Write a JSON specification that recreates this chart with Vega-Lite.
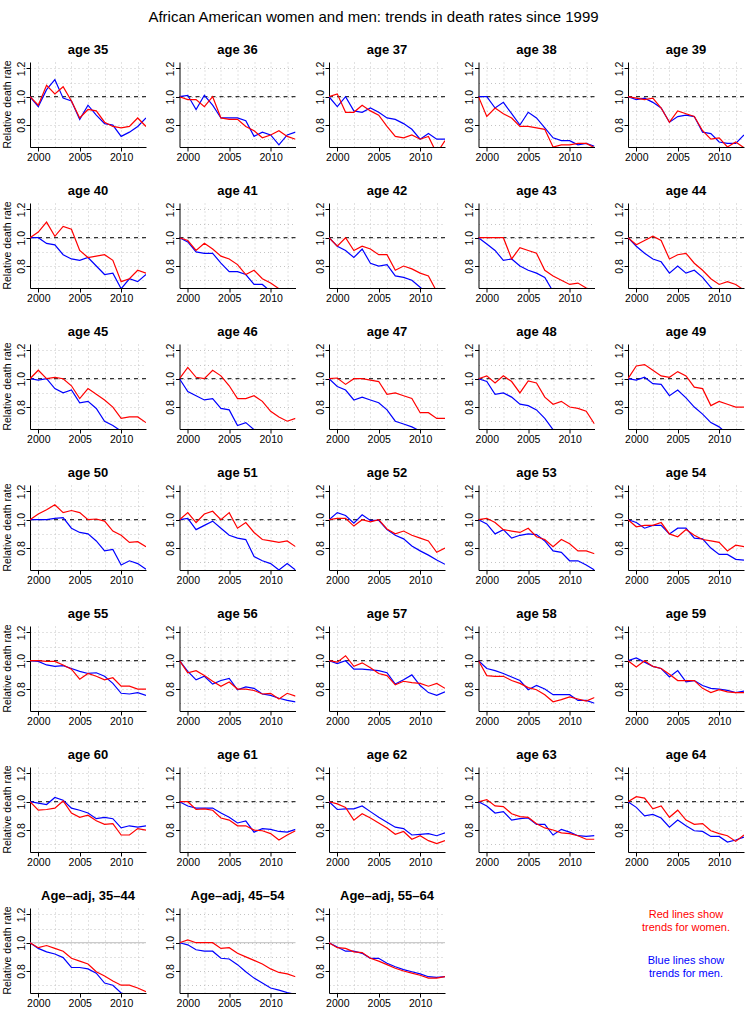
{
"$schema":"https://vega.github.io/schema/vega-lite/v6.json",
"padding":{"left":2,"top":10,"right":2,"bottom":2},
"title":{"text":"African American women and men: trends in death rates since 1999","fontSize":15,"fontWeight":"normal","font":"Liberation Sans","anchor":"middle","color":"black","offset":19},
"config":{"view":{"stroke":null},"font":"Liberation Sans","axis":{"domainColor":"black","tickColor":"black","labelColor":"black","labelFontSize":10.5,"labelFont":"Liberation Sans","tickSize":4,"domainWidth":1,"tickWidth":1,"gridColor":"#c4c4c4","gridDash":[1,3],"gridWidth":1}},
"data":{"values":[
{"a":35,"s":"m","x":1999,"v":1},{"a":35,"s":"m","x":2000,"v":0.93},{"a":35,"s":"m","x":2001,"v":1.05},{"a":35,"s":"m","x":2002,"v":1.12},{"a":35,"s":"m","x":2003,"v":0.99},{"a":35,"s":"m","x":2004,"v":0.97},{"a":35,"s":"m","x":2005,"v":0.84},{"a":35,"s":"m","x":2006,"v":0.94},{"a":35,"s":"m","x":2007,"v":0.87},{"a":35,"s":"m","x":2008,"v":0.81},{"a":35,"s":"m","x":2009,"v":0.8},{"a":35,"s":"m","x":2010,"v":0.72},{"a":35,"s":"m","x":2011,"v":0.75},{"a":35,"s":"m","x":2012,"v":0.79},{"a":35,"s":"m","x":2013,"v":0.85},
{"a":35,"s":"w","x":1999,"v":1},{"a":35,"s":"w","x":2000,"v":0.94},{"a":35,"s":"w","x":2001,"v":1.08},{"a":35,"s":"w","x":2002,"v":1.02},{"a":35,"s":"w","x":2003,"v":1.07},{"a":35,"s":"w","x":2004,"v":0.97},{"a":35,"s":"w","x":2005,"v":0.85},{"a":35,"s":"w","x":2006,"v":0.91},{"a":35,"s":"w","x":2007,"v":0.9},{"a":35,"s":"w","x":2008,"v":0.82},{"a":35,"s":"w","x":2009,"v":0.79},{"a":35,"s":"w","x":2010,"v":0.78},{"a":35,"s":"w","x":2011,"v":0.79},{"a":35,"s":"w","x":2012,"v":0.85},{"a":35,"s":"w","x":2013,"v":0.79},
{"a":36,"s":"m","x":1999,"v":1},{"a":36,"s":"m","x":2000,"v":1.01},{"a":36,"s":"m","x":2001,"v":0.91},{"a":36,"s":"m","x":2002,"v":1.01},{"a":36,"s":"m","x":2003,"v":0.94},{"a":36,"s":"m","x":2004,"v":0.85},{"a":36,"s":"m","x":2005,"v":0.85},{"a":36,"s":"m","x":2006,"v":0.85},{"a":36,"s":"m","x":2007,"v":0.83},{"a":36,"s":"m","x":2008,"v":0.72},{"a":36,"s":"m","x":2009,"v":0.75},{"a":36,"s":"m","x":2010,"v":0.73},{"a":36,"s":"m","x":2011,"v":0.66},{"a":36,"s":"m","x":2012,"v":0.73},{"a":36,"s":"m","x":2013,"v":0.75},
{"a":36,"s":"w","x":1999,"v":1},{"a":36,"s":"w","x":2000,"v":0.98},{"a":36,"s":"w","x":2001,"v":0.98},{"a":36,"s":"w","x":2002,"v":0.93},{"a":36,"s":"w","x":2003,"v":1.0},{"a":36,"s":"w","x":2004,"v":0.85},{"a":36,"s":"w","x":2005,"v":0.84},{"a":36,"s":"w","x":2006,"v":0.84},{"a":36,"s":"w","x":2007,"v":0.79},{"a":36,"s":"w","x":2008,"v":0.76},{"a":36,"s":"w","x":2009,"v":0.71},{"a":36,"s":"w","x":2010,"v":0.73},{"a":36,"s":"w","x":2011,"v":0.76},{"a":36,"s":"w","x":2012,"v":0.72},{"a":36,"s":"w","x":2013,"v":0.7},
{"a":37,"s":"m","x":1999,"v":1},{"a":37,"s":"m","x":2000,"v":0.93},{"a":37,"s":"m","x":2001,"v":1.0},{"a":37,"s":"m","x":2002,"v":0.9},{"a":37,"s":"m","x":2003,"v":0.89},{"a":37,"s":"m","x":2004,"v":0.92},{"a":37,"s":"m","x":2005,"v":0.89},{"a":37,"s":"m","x":2006,"v":0.85},{"a":37,"s":"m","x":2007,"v":0.84},{"a":37,"s":"m","x":2008,"v":0.81},{"a":37,"s":"m","x":2009,"v":0.77},{"a":37,"s":"m","x":2010,"v":0.7},{"a":37,"s":"m","x":2011,"v":0.74},{"a":37,"s":"m","x":2012,"v":0.7},{"a":37,"s":"m","x":2013,"v":0.7},
{"a":37,"s":"w","x":1999,"v":1},{"a":37,"s":"w","x":2000,"v":1.02},{"a":37,"s":"w","x":2001,"v":0.89},{"a":37,"s":"w","x":2002,"v":0.89},{"a":37,"s":"w","x":2003,"v":0.94},{"a":37,"s":"w","x":2004,"v":0.9},{"a":37,"s":"w","x":2005,"v":0.87},{"a":37,"s":"w","x":2006,"v":0.79},{"a":37,"s":"w","x":2007,"v":0.72},{"a":37,"s":"w","x":2008,"v":0.71},{"a":37,"s":"w","x":2009,"v":0.73},{"a":37,"s":"w","x":2010,"v":0.7},{"a":37,"s":"w","x":2011,"v":0.72},{"a":37,"s":"w","x":2012,"v":0.6},{"a":37,"s":"w","x":2013,"v":0.69},
{"a":38,"s":"m","x":1999,"v":1},{"a":38,"s":"m","x":2000,"v":1.0},{"a":38,"s":"m","x":2001,"v":0.92},{"a":38,"s":"m","x":2002,"v":0.96},{"a":38,"s":"m","x":2003,"v":0.88},{"a":38,"s":"m","x":2004,"v":0.8},{"a":38,"s":"m","x":2005,"v":0.89},{"a":38,"s":"m","x":2006,"v":0.85},{"a":38,"s":"m","x":2007,"v":0.78},{"a":38,"s":"m","x":2008,"v":0.71},{"a":38,"s":"m","x":2009,"v":0.69},{"a":38,"s":"m","x":2010,"v":0.69},{"a":38,"s":"m","x":2011,"v":0.66},{"a":38,"s":"m","x":2012,"v":0.67},{"a":38,"s":"m","x":2013,"v":0.65},
{"a":38,"s":"w","x":1999,"v":1},{"a":38,"s":"w","x":2000,"v":0.86},{"a":38,"s":"w","x":2001,"v":0.92},{"a":38,"s":"w","x":2002,"v":0.88},{"a":38,"s":"w","x":2003,"v":0.85},{"a":38,"s":"w","x":2004,"v":0.79},{"a":38,"s":"w","x":2005,"v":0.79},{"a":38,"s":"w","x":2006,"v":0.78},{"a":38,"s":"w","x":2007,"v":0.77},{"a":38,"s":"w","x":2008,"v":0.645},{"a":38,"s":"w","x":2009,"v":0.66},{"a":38,"s":"w","x":2010,"v":0.66},{"a":38,"s":"w","x":2011,"v":0.67},{"a":38,"s":"w","x":2012,"v":0.67},{"a":38,"s":"w","x":2013,"v":0.64},
{"a":39,"s":"m","x":1999,"v":1},{"a":39,"s":"m","x":2000,"v":0.98},{"a":39,"s":"m","x":2001,"v":0.99},{"a":39,"s":"m","x":2002,"v":0.96},{"a":39,"s":"m","x":2003,"v":0.92},{"a":39,"s":"m","x":2004,"v":0.82},{"a":39,"s":"m","x":2005,"v":0.86},{"a":39,"s":"m","x":2006,"v":0.87},{"a":39,"s":"m","x":2007,"v":0.86},{"a":39,"s":"m","x":2008,"v":0.75},{"a":39,"s":"m","x":2009,"v":0.74},{"a":39,"s":"m","x":2010,"v":0.68},{"a":39,"s":"m","x":2011,"v":0.67},{"a":39,"s":"m","x":2012,"v":0.67},{"a":39,"s":"m","x":2013,"v":0.73},
{"a":39,"s":"w","x":1999,"v":1},{"a":39,"s":"w","x":2000,"v":0.99},{"a":39,"s":"w","x":2001,"v":0.98},{"a":39,"s":"w","x":2002,"v":0.99},{"a":39,"s":"w","x":2003,"v":0.92},{"a":39,"s":"w","x":2004,"v":0.82},{"a":39,"s":"w","x":2005,"v":0.9},{"a":39,"s":"w","x":2006,"v":0.88},{"a":39,"s":"w","x":2007,"v":0.86},{"a":39,"s":"w","x":2008,"v":0.76},{"a":39,"s":"w","x":2009,"v":0.7},{"a":39,"s":"w","x":2010,"v":0.71},{"a":39,"s":"w","x":2011,"v":0.645},{"a":39,"s":"w","x":2012,"v":0.68},{"a":39,"s":"w","x":2013,"v":0.64},
{"a":40,"s":"m","x":1999,"v":1},{"a":40,"s":"m","x":2000,"v":1.0},{"a":40,"s":"m","x":2001,"v":0.96},{"a":40,"s":"m","x":2002,"v":0.95},{"a":40,"s":"m","x":2003,"v":0.88},{"a":40,"s":"m","x":2004,"v":0.85},{"a":40,"s":"m","x":2005,"v":0.84},{"a":40,"s":"m","x":2006,"v":0.86},{"a":40,"s":"m","x":2007,"v":0.8},{"a":40,"s":"m","x":2008,"v":0.74},{"a":40,"s":"m","x":2009,"v":0.75},{"a":40,"s":"m","x":2010,"v":0.64},{"a":40,"s":"m","x":2011,"v":0.71},{"a":40,"s":"m","x":2012,"v":0.69},{"a":40,"s":"m","x":2013,"v":0.74},
{"a":40,"s":"w","x":1999,"v":1},{"a":40,"s":"w","x":2000,"v":1.04},{"a":40,"s":"w","x":2001,"v":1.11},{"a":40,"s":"w","x":2002,"v":1.01},{"a":40,"s":"w","x":2003,"v":1.08},{"a":40,"s":"w","x":2004,"v":1.06},{"a":40,"s":"w","x":2005,"v":0.91},{"a":40,"s":"w","x":2006,"v":0.86},{"a":40,"s":"w","x":2007,"v":0.87},{"a":40,"s":"w","x":2008,"v":0.88},{"a":40,"s":"w","x":2009,"v":0.84},{"a":40,"s":"w","x":2010,"v":0.69},{"a":40,"s":"w","x":2011,"v":0.71},{"a":40,"s":"w","x":2012,"v":0.77},{"a":40,"s":"w","x":2013,"v":0.75},
{"a":41,"s":"m","x":1999,"v":1},{"a":41,"s":"m","x":2000,"v":0.97},{"a":41,"s":"m","x":2001,"v":0.9},{"a":41,"s":"m","x":2002,"v":0.89},{"a":41,"s":"m","x":2003,"v":0.89},{"a":41,"s":"m","x":2004,"v":0.82},{"a":41,"s":"m","x":2005,"v":0.76},{"a":41,"s":"m","x":2006,"v":0.76},{"a":41,"s":"m","x":2007,"v":0.74},{"a":41,"s":"m","x":2008,"v":0.67},{"a":41,"s":"m","x":2009,"v":0.67},{"a":41,"s":"m","x":2010,"v":0.62},{"a":41,"s":"m","x":2011,"v":0.59},{"a":41,"s":"m","x":2012,"v":0.57},{"a":41,"s":"m","x":2013,"v":0.55},
{"a":41,"s":"w","x":1999,"v":1},{"a":41,"s":"w","x":2000,"v":0.98},{"a":41,"s":"w","x":2001,"v":0.91},{"a":41,"s":"w","x":2002,"v":0.96},{"a":41,"s":"w","x":2003,"v":0.92},{"a":41,"s":"w","x":2004,"v":0.87},{"a":41,"s":"w","x":2005,"v":0.85},{"a":41,"s":"w","x":2006,"v":0.81},{"a":41,"s":"w","x":2007,"v":0.74},{"a":41,"s":"w","x":2008,"v":0.77},{"a":41,"s":"w","x":2009,"v":0.71},{"a":41,"s":"w","x":2010,"v":0.68},{"a":41,"s":"w","x":2011,"v":0.64},{"a":41,"s":"w","x":2012,"v":0.61},{"a":41,"s":"w","x":2013,"v":0.6},
{"a":42,"s":"m","x":1999,"v":1},{"a":42,"s":"m","x":2000,"v":0.94},{"a":42,"s":"m","x":2001,"v":0.91},{"a":42,"s":"m","x":2002,"v":0.86},{"a":42,"s":"m","x":2003,"v":0.92},{"a":42,"s":"m","x":2004,"v":0.82},{"a":42,"s":"m","x":2005,"v":0.8},{"a":42,"s":"m","x":2006,"v":0.81},{"a":42,"s":"m","x":2007,"v":0.73},{"a":42,"s":"m","x":2008,"v":0.72},{"a":42,"s":"m","x":2009,"v":0.7},{"a":42,"s":"m","x":2010,"v":0.65},{"a":42,"s":"m","x":2011,"v":0.6},{"a":42,"s":"m","x":2012,"v":0.58},{"a":42,"s":"m","x":2013,"v":0.56},
{"a":42,"s":"w","x":1999,"v":1},{"a":42,"s":"w","x":2000,"v":0.94},{"a":42,"s":"w","x":2001,"v":1.0},{"a":42,"s":"w","x":2002,"v":0.91},{"a":42,"s":"w","x":2003,"v":0.94},{"a":42,"s":"w","x":2004,"v":0.92},{"a":42,"s":"w","x":2005,"v":0.88},{"a":42,"s":"w","x":2006,"v":0.88},{"a":42,"s":"w","x":2007,"v":0.77},{"a":42,"s":"w","x":2008,"v":0.8},{"a":42,"s":"w","x":2009,"v":0.78},{"a":42,"s":"w","x":2010,"v":0.75},{"a":42,"s":"w","x":2011,"v":0.73},{"a":42,"s":"w","x":2012,"v":0.62},{"a":42,"s":"w","x":2013,"v":0.58},
{"a":43,"s":"m","x":1999,"v":1},{"a":43,"s":"m","x":2000,"v":0.955},{"a":43,"s":"m","x":2001,"v":0.91},{"a":43,"s":"m","x":2002,"v":0.84},{"a":43,"s":"m","x":2003,"v":0.85},{"a":43,"s":"m","x":2004,"v":0.8},{"a":43,"s":"m","x":2005,"v":0.77},{"a":43,"s":"m","x":2006,"v":0.75},{"a":43,"s":"m","x":2007,"v":0.72},{"a":43,"s":"m","x":2008,"v":0.62},{"a":43,"s":"m","x":2009,"v":0.6},{"a":43,"s":"m","x":2010,"v":0.58},{"a":43,"s":"m","x":2011,"v":0.56},{"a":43,"s":"m","x":2012,"v":0.54},{"a":43,"s":"m","x":2013,"v":0.52},
{"a":43,"s":"w","x":1999,"v":1},{"a":43,"s":"w","x":2000,"v":1.0},{"a":43,"s":"w","x":2001,"v":1.0},{"a":43,"s":"w","x":2002,"v":1.0},{"a":43,"s":"w","x":2003,"v":0.85},{"a":43,"s":"w","x":2004,"v":0.93},{"a":43,"s":"w","x":2005,"v":0.91},{"a":43,"s":"w","x":2006,"v":0.89},{"a":43,"s":"w","x":2007,"v":0.77},{"a":43,"s":"w","x":2008,"v":0.73},{"a":43,"s":"w","x":2009,"v":0.7},{"a":43,"s":"w","x":2010,"v":0.67},{"a":43,"s":"w","x":2011,"v":0.68},{"a":43,"s":"w","x":2012,"v":0.645},{"a":43,"s":"w","x":2013,"v":0.62},
{"a":44,"s":"m","x":1999,"v":1},{"a":44,"s":"m","x":2000,"v":0.94},{"a":44,"s":"m","x":2001,"v":0.89},{"a":44,"s":"m","x":2002,"v":0.85},{"a":44,"s":"m","x":2003,"v":0.83},{"a":44,"s":"m","x":2004,"v":0.75},{"a":44,"s":"m","x":2005,"v":0.8},{"a":44,"s":"m","x":2006,"v":0.75},{"a":44,"s":"m","x":2007,"v":0.77},{"a":44,"s":"m","x":2008,"v":0.72},{"a":44,"s":"m","x":2009,"v":0.65},{"a":44,"s":"m","x":2010,"v":0.6},{"a":44,"s":"m","x":2011,"v":0.58},{"a":44,"s":"m","x":2012,"v":0.56},{"a":44,"s":"m","x":2013,"v":0.54},
{"a":44,"s":"w","x":1999,"v":1},{"a":44,"s":"w","x":2000,"v":0.95},{"a":44,"s":"w","x":2001,"v":0.98},{"a":44,"s":"w","x":2002,"v":1.01},{"a":44,"s":"w","x":2003,"v":0.98},{"a":44,"s":"w","x":2004,"v":0.85},{"a":44,"s":"w","x":2005,"v":0.88},{"a":44,"s":"w","x":2006,"v":0.89},{"a":44,"s":"w","x":2007,"v":0.82},{"a":44,"s":"w","x":2008,"v":0.77},{"a":44,"s":"w","x":2009,"v":0.71},{"a":44,"s":"w","x":2010,"v":0.67},{"a":44,"s":"w","x":2011,"v":0.69},{"a":44,"s":"w","x":2012,"v":0.67},{"a":44,"s":"w","x":2013,"v":0.63},
{"a":45,"s":"m","x":1999,"v":1},{"a":45,"s":"m","x":2000,"v":0.99},{"a":45,"s":"m","x":2001,"v":1.0},{"a":45,"s":"m","x":2002,"v":0.93},{"a":45,"s":"m","x":2003,"v":0.9},{"a":45,"s":"m","x":2004,"v":0.92},{"a":45,"s":"m","x":2005,"v":0.83},{"a":45,"s":"m","x":2006,"v":0.84},{"a":45,"s":"m","x":2007,"v":0.79},{"a":45,"s":"m","x":2008,"v":0.7},{"a":45,"s":"m","x":2009,"v":0.67},{"a":45,"s":"m","x":2010,"v":0.63},{"a":45,"s":"m","x":2011,"v":0.64},{"a":45,"s":"m","x":2012,"v":0.6},{"a":45,"s":"m","x":2013,"v":0.58},
{"a":45,"s":"w","x":1999,"v":1},{"a":45,"s":"w","x":2000,"v":1.06},{"a":45,"s":"w","x":2001,"v":1.0},{"a":45,"s":"w","x":2002,"v":1.01},{"a":45,"s":"w","x":2003,"v":1.0},{"a":45,"s":"w","x":2004,"v":0.95},{"a":45,"s":"w","x":2005,"v":0.86},{"a":45,"s":"w","x":2006,"v":0.93},{"a":45,"s":"w","x":2007,"v":0.89},{"a":45,"s":"w","x":2008,"v":0.85},{"a":45,"s":"w","x":2009,"v":0.8},{"a":45,"s":"w","x":2010,"v":0.72},{"a":45,"s":"w","x":2011,"v":0.73},{"a":45,"s":"w","x":2012,"v":0.73},{"a":45,"s":"w","x":2013,"v":0.69},
{"a":46,"s":"m","x":1999,"v":1},{"a":46,"s":"m","x":2000,"v":0.91},{"a":46,"s":"m","x":2001,"v":0.88},{"a":46,"s":"m","x":2002,"v":0.85},{"a":46,"s":"m","x":2003,"v":0.86},{"a":46,"s":"m","x":2004,"v":0.79},{"a":46,"s":"m","x":2005,"v":0.78},{"a":46,"s":"m","x":2006,"v":0.67},{"a":46,"s":"m","x":2007,"v":0.69},{"a":46,"s":"m","x":2008,"v":0.64},{"a":46,"s":"m","x":2009,"v":0.61},{"a":46,"s":"m","x":2010,"v":0.59},{"a":46,"s":"m","x":2011,"v":0.57},{"a":46,"s":"m","x":2012,"v":0.55},{"a":46,"s":"m","x":2013,"v":0.53},
{"a":46,"s":"w","x":1999,"v":1},{"a":46,"s":"w","x":2000,"v":1.08},{"a":46,"s":"w","x":2001,"v":1.01},{"a":46,"s":"w","x":2002,"v":1.0},{"a":46,"s":"w","x":2003,"v":1.06},{"a":46,"s":"w","x":2004,"v":1.02},{"a":46,"s":"w","x":2005,"v":0.95},{"a":46,"s":"w","x":2006,"v":0.86},{"a":46,"s":"w","x":2007,"v":0.86},{"a":46,"s":"w","x":2008,"v":0.88},{"a":46,"s":"w","x":2009,"v":0.84},{"a":46,"s":"w","x":2010,"v":0.77},{"a":46,"s":"w","x":2011,"v":0.73},{"a":46,"s":"w","x":2012,"v":0.7},{"a":46,"s":"w","x":2013,"v":0.72},
{"a":47,"s":"m","x":1999,"v":1},{"a":47,"s":"m","x":2000,"v":0.945},{"a":47,"s":"m","x":2001,"v":0.92},{"a":47,"s":"m","x":2002,"v":0.85},{"a":47,"s":"m","x":2003,"v":0.87},{"a":47,"s":"m","x":2004,"v":0.85},{"a":47,"s":"m","x":2005,"v":0.83},{"a":47,"s":"m","x":2006,"v":0.78},{"a":47,"s":"m","x":2007,"v":0.7},{"a":47,"s":"m","x":2008,"v":0.68},{"a":47,"s":"m","x":2009,"v":0.66},{"a":47,"s":"m","x":2010,"v":0.63},{"a":47,"s":"m","x":2011,"v":0.61},{"a":47,"s":"m","x":2012,"v":0.59},{"a":47,"s":"m","x":2013,"v":0.57},
{"a":47,"s":"w","x":1999,"v":1},{"a":47,"s":"w","x":2000,"v":1.005},{"a":47,"s":"w","x":2001,"v":0.96},{"a":47,"s":"w","x":2002,"v":1.0},{"a":47,"s":"w","x":2003,"v":1.0},{"a":47,"s":"w","x":2004,"v":0.99},{"a":47,"s":"w","x":2005,"v":0.98},{"a":47,"s":"w","x":2006,"v":0.89},{"a":47,"s":"w","x":2007,"v":0.9},{"a":47,"s":"w","x":2008,"v":0.88},{"a":47,"s":"w","x":2009,"v":0.86},{"a":47,"s":"w","x":2010,"v":0.76},{"a":47,"s":"w","x":2011,"v":0.76},{"a":47,"s":"w","x":2012,"v":0.72},{"a":47,"s":"w","x":2013,"v":0.72},
{"a":48,"s":"m","x":1999,"v":1},{"a":48,"s":"m","x":2000,"v":0.98},{"a":48,"s":"m","x":2001,"v":0.89},{"a":48,"s":"m","x":2002,"v":0.9},{"a":48,"s":"m","x":2003,"v":0.87},{"a":48,"s":"m","x":2004,"v":0.82},{"a":48,"s":"m","x":2005,"v":0.81},{"a":48,"s":"m","x":2006,"v":0.78},{"a":48,"s":"m","x":2007,"v":0.72},{"a":48,"s":"m","x":2008,"v":0.64},{"a":48,"s":"m","x":2009,"v":0.6},{"a":48,"s":"m","x":2010,"v":0.58},{"a":48,"s":"m","x":2011,"v":0.56},{"a":48,"s":"m","x":2012,"v":0.54},{"a":48,"s":"m","x":2013,"v":0.52},
{"a":48,"s":"w","x":1999,"v":1},{"a":48,"s":"w","x":2000,"v":1.02},{"a":48,"s":"w","x":2001,"v":0.97},{"a":48,"s":"w","x":2002,"v":1.02},{"a":48,"s":"w","x":2003,"v":0.98},{"a":48,"s":"w","x":2004,"v":0.9},{"a":48,"s":"w","x":2005,"v":0.985},{"a":48,"s":"w","x":2006,"v":0.97},{"a":48,"s":"w","x":2007,"v":0.87},{"a":48,"s":"w","x":2008,"v":0.82},{"a":48,"s":"w","x":2009,"v":0.84},{"a":48,"s":"w","x":2010,"v":0.8},{"a":48,"s":"w","x":2011,"v":0.79},{"a":48,"s":"w","x":2012,"v":0.77},{"a":48,"s":"w","x":2013,"v":0.68},
{"a":49,"s":"m","x":1999,"v":1},{"a":49,"s":"m","x":2000,"v":0.99},{"a":49,"s":"m","x":2001,"v":1.01},{"a":49,"s":"m","x":2002,"v":0.965},{"a":49,"s":"m","x":2003,"v":0.96},{"a":49,"s":"m","x":2004,"v":0.88},{"a":49,"s":"m","x":2005,"v":0.92},{"a":49,"s":"m","x":2006,"v":0.865},{"a":49,"s":"m","x":2007,"v":0.8},{"a":49,"s":"m","x":2008,"v":0.75},{"a":49,"s":"m","x":2009,"v":0.69},{"a":49,"s":"m","x":2010,"v":0.66},{"a":49,"s":"m","x":2011,"v":0.61},{"a":49,"s":"m","x":2012,"v":0.59},{"a":49,"s":"m","x":2013,"v":0.57},
{"a":49,"s":"w","x":1999,"v":1},{"a":49,"s":"w","x":2000,"v":1.09},{"a":49,"s":"w","x":2001,"v":1.1},{"a":49,"s":"w","x":2002,"v":1.06},{"a":49,"s":"w","x":2003,"v":1.02},{"a":49,"s":"w","x":2004,"v":1.01},{"a":49,"s":"w","x":2005,"v":1.05},{"a":49,"s":"w","x":2006,"v":1.02},{"a":49,"s":"w","x":2007,"v":0.94},{"a":49,"s":"w","x":2008,"v":0.93},{"a":49,"s":"w","x":2009,"v":0.81},{"a":49,"s":"w","x":2010,"v":0.84},{"a":49,"s":"w","x":2011,"v":0.82},{"a":49,"s":"w","x":2012,"v":0.8},{"a":49,"s":"w","x":2013,"v":0.8},
{"a":50,"s":"m","x":1999,"v":1},{"a":50,"s":"m","x":2000,"v":1.0},{"a":50,"s":"m","x":2001,"v":1.0},{"a":50,"s":"m","x":2002,"v":1.01},{"a":50,"s":"m","x":2003,"v":1.015},{"a":50,"s":"m","x":2004,"v":0.94},{"a":50,"s":"m","x":2005,"v":0.91},{"a":50,"s":"m","x":2006,"v":0.9},{"a":50,"s":"m","x":2007,"v":0.85},{"a":50,"s":"m","x":2008,"v":0.78},{"a":50,"s":"m","x":2009,"v":0.79},{"a":50,"s":"m","x":2010,"v":0.68},{"a":50,"s":"m","x":2011,"v":0.71},{"a":50,"s":"m","x":2012,"v":0.69},{"a":50,"s":"m","x":2013,"v":0.65},
{"a":50,"s":"w","x":1999,"v":1},{"a":50,"s":"w","x":2000,"v":1.04},{"a":50,"s":"w","x":2001,"v":1.07},{"a":50,"s":"w","x":2002,"v":1.105},{"a":50,"s":"w","x":2003,"v":1.05},{"a":50,"s":"w","x":2004,"v":1.065},{"a":50,"s":"w","x":2005,"v":1.05},{"a":50,"s":"w","x":2006,"v":1.0},{"a":50,"s":"w","x":2007,"v":1.005},{"a":50,"s":"w","x":2008,"v":0.99},{"a":50,"s":"w","x":2009,"v":0.92},{"a":50,"s":"w","x":2010,"v":0.89},{"a":50,"s":"w","x":2011,"v":0.84},{"a":50,"s":"w","x":2012,"v":0.845},{"a":50,"s":"w","x":2013,"v":0.81},
{"a":51,"s":"m","x":1999,"v":1},{"a":51,"s":"m","x":2000,"v":1.01},{"a":51,"s":"m","x":2001,"v":0.93},{"a":51,"s":"m","x":2002,"v":0.96},{"a":51,"s":"m","x":2003,"v":0.99},{"a":51,"s":"m","x":2004,"v":0.94},{"a":51,"s":"m","x":2005,"v":0.89},{"a":51,"s":"m","x":2006,"v":0.87},{"a":51,"s":"m","x":2007,"v":0.86},{"a":51,"s":"m","x":2008,"v":0.74},{"a":51,"s":"m","x":2009,"v":0.71},{"a":51,"s":"m","x":2010,"v":0.69},{"a":51,"s":"m","x":2011,"v":0.645},{"a":51,"s":"m","x":2012,"v":0.69},{"a":51,"s":"m","x":2013,"v":0.645},
{"a":51,"s":"w","x":1999,"v":1},{"a":51,"s":"w","x":2000,"v":1.05},{"a":51,"s":"w","x":2001,"v":0.98},{"a":51,"s":"w","x":2002,"v":1.04},{"a":51,"s":"w","x":2003,"v":1.06},{"a":51,"s":"w","x":2004,"v":1.0},{"a":51,"s":"w","x":2005,"v":1.05},{"a":51,"s":"w","x":2006,"v":0.94},{"a":51,"s":"w","x":2007,"v":0.98},{"a":51,"s":"w","x":2008,"v":0.91},{"a":51,"s":"w","x":2009,"v":0.86},{"a":51,"s":"w","x":2010,"v":0.85},{"a":51,"s":"w","x":2011,"v":0.84},{"a":51,"s":"w","x":2012,"v":0.85},{"a":51,"s":"w","x":2013,"v":0.81},
{"a":52,"s":"m","x":1999,"v":1},{"a":52,"s":"m","x":2000,"v":1.05},{"a":52,"s":"m","x":2001,"v":1.03},{"a":52,"s":"m","x":2002,"v":0.975},{"a":52,"s":"m","x":2003,"v":1.035},{"a":52,"s":"m","x":2004,"v":0.995},{"a":52,"s":"m","x":2005,"v":0.995},{"a":52,"s":"m","x":2006,"v":0.93},{"a":52,"s":"m","x":2007,"v":0.89},{"a":52,"s":"m","x":2008,"v":0.865},{"a":52,"s":"m","x":2009,"v":0.815},{"a":52,"s":"m","x":2010,"v":0.78},{"a":52,"s":"m","x":2011,"v":0.75},{"a":52,"s":"m","x":2012,"v":0.715},{"a":52,"s":"m","x":2013,"v":0.685},
{"a":52,"s":"w","x":1999,"v":1},{"a":52,"s":"w","x":2000,"v":1.01},{"a":52,"s":"w","x":2001,"v":1.01},{"a":52,"s":"w","x":2002,"v":0.955},{"a":52,"s":"w","x":2003,"v":1.0},{"a":52,"s":"w","x":2004,"v":0.985},{"a":52,"s":"w","x":2005,"v":1.0},{"a":52,"s":"w","x":2006,"v":0.935},{"a":52,"s":"w","x":2007,"v":0.9},{"a":52,"s":"w","x":2008,"v":0.92},{"a":52,"s":"w","x":2009,"v":0.89},{"a":52,"s":"w","x":2010,"v":0.87},{"a":52,"s":"w","x":2011,"v":0.85},{"a":52,"s":"w","x":2012,"v":0.77},{"a":52,"s":"w","x":2013,"v":0.8},
{"a":53,"s":"m","x":1999,"v":1},{"a":53,"s":"m","x":2000,"v":0.97},{"a":53,"s":"m","x":2001,"v":0.9},{"a":53,"s":"m","x":2002,"v":0.93},{"a":53,"s":"m","x":2003,"v":0.87},{"a":53,"s":"m","x":2004,"v":0.89},{"a":53,"s":"m","x":2005,"v":0.9},{"a":53,"s":"m","x":2006,"v":0.895},{"a":53,"s":"m","x":2007,"v":0.85},{"a":53,"s":"m","x":2008,"v":0.78},{"a":53,"s":"m","x":2009,"v":0.77},{"a":53,"s":"m","x":2010,"v":0.71},{"a":53,"s":"m","x":2011,"v":0.71},{"a":53,"s":"m","x":2012,"v":0.68},{"a":53,"s":"m","x":2013,"v":0.645},
{"a":53,"s":"w","x":1999,"v":1},{"a":53,"s":"w","x":2000,"v":1.01},{"a":53,"s":"w","x":2001,"v":0.98},{"a":53,"s":"w","x":2002,"v":0.93},{"a":53,"s":"w","x":2003,"v":0.92},{"a":53,"s":"w","x":2004,"v":0.91},{"a":53,"s":"w","x":2005,"v":0.94},{"a":53,"s":"w","x":2006,"v":0.88},{"a":53,"s":"w","x":2007,"v":0.86},{"a":53,"s":"w","x":2008,"v":0.81},{"a":53,"s":"w","x":2009,"v":0.86},{"a":53,"s":"w","x":2010,"v":0.83},{"a":53,"s":"w","x":2011,"v":0.78},{"a":53,"s":"w","x":2012,"v":0.78},{"a":53,"s":"w","x":2013,"v":0.76},
{"a":54,"s":"m","x":1999,"v":1},{"a":54,"s":"m","x":2000,"v":0.98},{"a":54,"s":"m","x":2001,"v":0.94},{"a":54,"s":"m","x":2002,"v":0.96},{"a":54,"s":"m","x":2003,"v":0.96},{"a":54,"s":"m","x":2004,"v":0.9},{"a":54,"s":"m","x":2005,"v":0.94},{"a":54,"s":"m","x":2006,"v":0.94},{"a":54,"s":"m","x":2007,"v":0.87},{"a":54,"s":"m","x":2008,"v":0.865},{"a":54,"s":"m","x":2009,"v":0.8},{"a":54,"s":"m","x":2010,"v":0.755},{"a":54,"s":"m","x":2011,"v":0.755},{"a":54,"s":"m","x":2012,"v":0.72},{"a":54,"s":"m","x":2013,"v":0.715},
{"a":54,"s":"w","x":1999,"v":1},{"a":54,"s":"w","x":2000,"v":0.95},{"a":54,"s":"w","x":2001,"v":0.96},{"a":54,"s":"w","x":2002,"v":0.96},{"a":54,"s":"w","x":2003,"v":0.98},{"a":54,"s":"w","x":2004,"v":0.9},{"a":54,"s":"w","x":2005,"v":0.88},{"a":54,"s":"w","x":2006,"v":0.93},{"a":54,"s":"w","x":2007,"v":0.89},{"a":54,"s":"w","x":2008,"v":0.86},{"a":54,"s":"w","x":2009,"v":0.85},{"a":54,"s":"w","x":2010,"v":0.84},{"a":54,"s":"w","x":2011,"v":0.78},{"a":54,"s":"w","x":2012,"v":0.82},{"a":54,"s":"w","x":2013,"v":0.81},
{"a":55,"s":"m","x":1999,"v":1},{"a":55,"s":"m","x":2000,"v":0.995},{"a":55,"s":"m","x":2001,"v":0.97},{"a":55,"s":"m","x":2002,"v":0.96},{"a":55,"s":"m","x":2003,"v":0.965},{"a":55,"s":"m","x":2004,"v":0.945},{"a":55,"s":"m","x":2005,"v":0.925},{"a":55,"s":"m","x":2006,"v":0.91},{"a":55,"s":"m","x":2007,"v":0.915},{"a":55,"s":"m","x":2008,"v":0.89},{"a":55,"s":"m","x":2009,"v":0.84},{"a":55,"s":"m","x":2010,"v":0.77},{"a":55,"s":"m","x":2011,"v":0.765},{"a":55,"s":"m","x":2012,"v":0.775},{"a":55,"s":"m","x":2013,"v":0.755},
{"a":55,"s":"w","x":1999,"v":1},{"a":55,"s":"w","x":2000,"v":1.0},{"a":55,"s":"w","x":2001,"v":0.995},{"a":55,"s":"w","x":2002,"v":0.995},{"a":55,"s":"w","x":2003,"v":0.97},{"a":55,"s":"w","x":2004,"v":0.94},{"a":55,"s":"w","x":2005,"v":0.87},{"a":55,"s":"w","x":2006,"v":0.91},{"a":55,"s":"w","x":2007,"v":0.89},{"a":55,"s":"w","x":2008,"v":0.865},{"a":55,"s":"w","x":2009,"v":0.88},{"a":55,"s":"w","x":2010,"v":0.82},{"a":55,"s":"w","x":2011,"v":0.82},{"a":55,"s":"w","x":2012,"v":0.8},{"a":55,"s":"w","x":2013,"v":0.8},
{"a":56,"s":"m","x":1999,"v":1},{"a":56,"s":"m","x":2000,"v":0.925},{"a":56,"s":"m","x":2001,"v":0.865},{"a":56,"s":"m","x":2002,"v":0.89},{"a":56,"s":"m","x":2003,"v":0.835},{"a":56,"s":"m","x":2004,"v":0.86},{"a":56,"s":"m","x":2005,"v":0.875},{"a":56,"s":"m","x":2006,"v":0.795},{"a":56,"s":"m","x":2007,"v":0.815},{"a":56,"s":"m","x":2008,"v":0.805},{"a":56,"s":"m","x":2009,"v":0.765},{"a":56,"s":"m","x":2010,"v":0.755},{"a":56,"s":"m","x":2011,"v":0.735},{"a":56,"s":"m","x":2012,"v":0.72},{"a":56,"s":"m","x":2013,"v":0.71},
{"a":56,"s":"w","x":1999,"v":1},{"a":56,"s":"w","x":2000,"v":0.915},{"a":56,"s":"w","x":2001,"v":0.93},{"a":56,"s":"w","x":2002,"v":0.895},{"a":56,"s":"w","x":2003,"v":0.855},{"a":56,"s":"w","x":2004,"v":0.82},{"a":56,"s":"w","x":2005,"v":0.85},{"a":56,"s":"w","x":2006,"v":0.8},{"a":56,"s":"w","x":2007,"v":0.8},{"a":56,"s":"w","x":2008,"v":0.79},{"a":56,"s":"w","x":2009,"v":0.765},{"a":56,"s":"w","x":2010,"v":0.77},{"a":56,"s":"w","x":2011,"v":0.73},{"a":56,"s":"w","x":2012,"v":0.77},{"a":56,"s":"w","x":2013,"v":0.75},
{"a":57,"s":"m","x":1999,"v":1},{"a":57,"s":"m","x":2000,"v":0.98},{"a":57,"s":"m","x":2001,"v":1.0},{"a":57,"s":"m","x":2002,"v":0.94},{"a":57,"s":"m","x":2003,"v":0.94},{"a":57,"s":"m","x":2004,"v":0.935},{"a":57,"s":"m","x":2005,"v":0.93},{"a":57,"s":"m","x":2006,"v":0.915},{"a":57,"s":"m","x":2007,"v":0.835},{"a":57,"s":"m","x":2008,"v":0.865},{"a":57,"s":"m","x":2009,"v":0.9},{"a":57,"s":"m","x":2010,"v":0.825},{"a":57,"s":"m","x":2011,"v":0.775},{"a":57,"s":"m","x":2012,"v":0.755},{"a":57,"s":"m","x":2013,"v":0.78},
{"a":57,"s":"w","x":1999,"v":1},{"a":57,"s":"w","x":2000,"v":0.99},{"a":57,"s":"w","x":2001,"v":1.035},{"a":57,"s":"w","x":2002,"v":0.96},{"a":57,"s":"w","x":2003,"v":0.985},{"a":57,"s":"w","x":2004,"v":0.95},{"a":57,"s":"w","x":2005,"v":0.91},{"a":57,"s":"w","x":2006,"v":0.895},{"a":57,"s":"w","x":2007,"v":0.83},{"a":57,"s":"w","x":2008,"v":0.855},{"a":57,"s":"w","x":2009,"v":0.845},{"a":57,"s":"w","x":2010,"v":0.84},{"a":57,"s":"w","x":2011,"v":0.82},{"a":57,"s":"w","x":2012,"v":0.84},{"a":57,"s":"w","x":2013,"v":0.805},
{"a":58,"s":"m","x":1999,"v":1},{"a":58,"s":"m","x":2000,"v":0.945},{"a":58,"s":"m","x":2001,"v":0.93},{"a":58,"s":"m","x":2002,"v":0.91},{"a":58,"s":"m","x":2003,"v":0.885},{"a":58,"s":"m","x":2004,"v":0.86},{"a":58,"s":"m","x":2005,"v":0.795},{"a":58,"s":"m","x":2006,"v":0.825},{"a":58,"s":"m","x":2007,"v":0.8},{"a":58,"s":"m","x":2008,"v":0.76},{"a":58,"s":"m","x":2009,"v":0.76},{"a":58,"s":"m","x":2010,"v":0.76},{"a":58,"s":"m","x":2011,"v":0.72},{"a":58,"s":"m","x":2012,"v":0.72},{"a":58,"s":"m","x":2013,"v":0.7},
{"a":58,"s":"w","x":1999,"v":1},{"a":58,"s":"w","x":2000,"v":0.895},{"a":58,"s":"w","x":2001,"v":0.89},{"a":58,"s":"w","x":2002,"v":0.89},{"a":58,"s":"w","x":2003,"v":0.86},{"a":58,"s":"w","x":2004,"v":0.84},{"a":58,"s":"w","x":2005,"v":0.81},{"a":58,"s":"w","x":2006,"v":0.795},{"a":58,"s":"w","x":2007,"v":0.76},{"a":58,"s":"w","x":2008,"v":0.71},{"a":58,"s":"w","x":2009,"v":0.725},{"a":58,"s":"w","x":2010,"v":0.745},{"a":58,"s":"w","x":2011,"v":0.73},{"a":58,"s":"w","x":2012,"v":0.715},{"a":58,"s":"w","x":2013,"v":0.74},
{"a":59,"s":"m","x":1999,"v":1},{"a":59,"s":"m","x":2000,"v":1.02},{"a":59,"s":"m","x":2001,"v":0.99},{"a":59,"s":"m","x":2002,"v":0.96},{"a":59,"s":"m","x":2003,"v":0.945},{"a":59,"s":"m","x":2004,"v":0.885},{"a":59,"s":"m","x":2005,"v":0.93},{"a":59,"s":"m","x":2006,"v":0.85},{"a":59,"s":"m","x":2007,"v":0.86},{"a":59,"s":"m","x":2008,"v":0.825},{"a":59,"s":"m","x":2009,"v":0.805},{"a":59,"s":"m","x":2010,"v":0.8},{"a":59,"s":"m","x":2011,"v":0.79},{"a":59,"s":"m","x":2012,"v":0.775},{"a":59,"s":"m","x":2013,"v":0.785},
{"a":59,"s":"w","x":1999,"v":1},{"a":59,"s":"w","x":2000,"v":0.955},{"a":59,"s":"w","x":2001,"v":1.0},{"a":59,"s":"w","x":2002,"v":0.96},{"a":59,"s":"w","x":2003,"v":0.945},{"a":59,"s":"w","x":2004,"v":0.905},{"a":59,"s":"w","x":2005,"v":0.86},{"a":59,"s":"w","x":2006,"v":0.86},{"a":59,"s":"w","x":2007,"v":0.86},{"a":59,"s":"w","x":2008,"v":0.805},{"a":59,"s":"w","x":2009,"v":0.775},{"a":59,"s":"w","x":2010,"v":0.795},{"a":59,"s":"w","x":2011,"v":0.78},{"a":59,"s":"w","x":2012,"v":0.775},{"a":59,"s":"w","x":2013,"v":0.775},
{"a":60,"s":"m","x":1999,"v":1},{"a":60,"s":"m","x":2000,"v":0.99},{"a":60,"s":"m","x":2001,"v":0.98},{"a":60,"s":"m","x":2002,"v":1.03},{"a":60,"s":"m","x":2003,"v":1.01},{"a":60,"s":"m","x":2004,"v":0.955},{"a":60,"s":"m","x":2005,"v":0.94},{"a":60,"s":"m","x":2006,"v":0.92},{"a":60,"s":"m","x":2007,"v":0.88},{"a":60,"s":"m","x":2008,"v":0.89},{"a":60,"s":"m","x":2009,"v":0.88},{"a":60,"s":"m","x":2010,"v":0.815},{"a":60,"s":"m","x":2011,"v":0.83},{"a":60,"s":"m","x":2012,"v":0.82},{"a":60,"s":"m","x":2013,"v":0.83},
{"a":60,"s":"w","x":1999,"v":1},{"a":60,"s":"w","x":2000,"v":0.94},{"a":60,"s":"w","x":2001,"v":0.945},{"a":60,"s":"w","x":2002,"v":0.955},{"a":60,"s":"w","x":2003,"v":1.005},{"a":60,"s":"w","x":2004,"v":0.92},{"a":60,"s":"w","x":2005,"v":0.89},{"a":60,"s":"w","x":2006,"v":0.905},{"a":60,"s":"w","x":2007,"v":0.865},{"a":60,"s":"w","x":2008,"v":0.84},{"a":60,"s":"w","x":2009,"v":0.845},{"a":60,"s":"w","x":2010,"v":0.765},{"a":60,"s":"w","x":2011,"v":0.765},{"a":60,"s":"w","x":2012,"v":0.81},{"a":60,"s":"w","x":2013,"v":0.8},
{"a":61,"s":"m","x":1999,"v":1},{"a":61,"s":"m","x":2000,"v":0.97},{"a":61,"s":"m","x":2001,"v":0.955},{"a":61,"s":"m","x":2002,"v":0.955},{"a":61,"s":"m","x":2003,"v":0.955},{"a":61,"s":"m","x":2004,"v":0.92},{"a":61,"s":"m","x":2005,"v":0.89},{"a":61,"s":"m","x":2006,"v":0.85},{"a":61,"s":"m","x":2007,"v":0.865},{"a":61,"s":"m","x":2008,"v":0.785},{"a":61,"s":"m","x":2009,"v":0.81},{"a":61,"s":"m","x":2010,"v":0.805},{"a":61,"s":"m","x":2011,"v":0.79},{"a":61,"s":"m","x":2012,"v":0.785},{"a":61,"s":"m","x":2013,"v":0.805},
{"a":61,"s":"w","x":1999,"v":1},{"a":61,"s":"w","x":2000,"v":1.0},{"a":61,"s":"w","x":2001,"v":0.945},{"a":61,"s":"w","x":2002,"v":0.95},{"a":61,"s":"w","x":2003,"v":0.94},{"a":61,"s":"w","x":2004,"v":0.885},{"a":61,"s":"w","x":2005,"v":0.87},{"a":61,"s":"w","x":2006,"v":0.83},{"a":61,"s":"w","x":2007,"v":0.83},{"a":61,"s":"w","x":2008,"v":0.8},{"a":61,"s":"w","x":2009,"v":0.795},{"a":61,"s":"w","x":2010,"v":0.775},{"a":61,"s":"w","x":2011,"v":0.73},{"a":61,"s":"w","x":2012,"v":0.765},{"a":61,"s":"w","x":2013,"v":0.795},
{"a":62,"s":"m","x":1999,"v":1},{"a":62,"s":"m","x":2000,"v":0.945},{"a":62,"s":"m","x":2001,"v":0.95},{"a":62,"s":"m","x":2002,"v":0.95},{"a":62,"s":"m","x":2003,"v":0.97},{"a":62,"s":"m","x":2004,"v":0.93},{"a":62,"s":"m","x":2005,"v":0.89},{"a":62,"s":"m","x":2006,"v":0.855},{"a":62,"s":"m","x":2007,"v":0.82},{"a":62,"s":"m","x":2008,"v":0.81},{"a":62,"s":"m","x":2009,"v":0.765},{"a":62,"s":"m","x":2010,"v":0.77},{"a":62,"s":"m","x":2011,"v":0.775},{"a":62,"s":"m","x":2012,"v":0.76},{"a":62,"s":"m","x":2013,"v":0.78},
{"a":62,"s":"w","x":1999,"v":1},{"a":62,"s":"w","x":2000,"v":0.985},{"a":62,"s":"w","x":2001,"v":0.96},{"a":62,"s":"w","x":2002,"v":0.87},{"a":62,"s":"w","x":2003,"v":0.915},{"a":62,"s":"w","x":2004,"v":0.885},{"a":62,"s":"w","x":2005,"v":0.85},{"a":62,"s":"w","x":2006,"v":0.815},{"a":62,"s":"w","x":2007,"v":0.77},{"a":62,"s":"w","x":2008,"v":0.79},{"a":62,"s":"w","x":2009,"v":0.735},{"a":62,"s":"w","x":2010,"v":0.76},{"a":62,"s":"w","x":2011,"v":0.725},{"a":62,"s":"w","x":2012,"v":0.705},{"a":62,"s":"w","x":2013,"v":0.725},
{"a":63,"s":"m","x":1999,"v":1},{"a":63,"s":"m","x":2000,"v":0.97},{"a":63,"s":"m","x":2001,"v":0.92},{"a":63,"s":"m","x":2002,"v":0.93},{"a":63,"s":"m","x":2003,"v":0.87},{"a":63,"s":"m","x":2004,"v":0.88},{"a":63,"s":"m","x":2005,"v":0.885},{"a":63,"s":"m","x":2006,"v":0.84},{"a":63,"s":"m","x":2007,"v":0.84},{"a":63,"s":"m","x":2008,"v":0.765},{"a":63,"s":"m","x":2009,"v":0.805},{"a":63,"s":"m","x":2010,"v":0.785},{"a":63,"s":"m","x":2011,"v":0.76},{"a":63,"s":"m","x":2012,"v":0.755},{"a":63,"s":"m","x":2013,"v":0.76},
{"a":63,"s":"w","x":1999,"v":1},{"a":63,"s":"w","x":2000,"v":1.015},{"a":63,"s":"w","x":2001,"v":0.97},{"a":63,"s":"w","x":2002,"v":0.965},{"a":63,"s":"w","x":2003,"v":0.915},{"a":63,"s":"w","x":2004,"v":0.895},{"a":63,"s":"w","x":2005,"v":0.89},{"a":63,"s":"w","x":2006,"v":0.845},{"a":63,"s":"w","x":2007,"v":0.815},{"a":63,"s":"w","x":2008,"v":0.8},{"a":63,"s":"w","x":2009,"v":0.78},{"a":63,"s":"w","x":2010,"v":0.775},{"a":63,"s":"w","x":2011,"v":0.76},{"a":63,"s":"w","x":2012,"v":0.735},{"a":63,"s":"w","x":2013,"v":0.735},
{"a":64,"s":"m","x":1999,"v":1},{"a":64,"s":"m","x":2000,"v":0.96},{"a":64,"s":"m","x":2001,"v":0.9},{"a":64,"s":"m","x":2002,"v":0.91},{"a":64,"s":"m","x":2003,"v":0.885},{"a":64,"s":"m","x":2004,"v":0.82},{"a":64,"s":"m","x":2005,"v":0.87},{"a":64,"s":"m","x":2006,"v":0.83},{"a":64,"s":"m","x":2007,"v":0.795},{"a":64,"s":"m","x":2008,"v":0.79},{"a":64,"s":"m","x":2009,"v":0.755},{"a":64,"s":"m","x":2010,"v":0.755},{"a":64,"s":"m","x":2011,"v":0.715},{"a":64,"s":"m","x":2012,"v":0.73},{"a":64,"s":"m","x":2013,"v":0.75},
{"a":64,"s":"w","x":1999,"v":1},{"a":64,"s":"w","x":2000,"v":1.035},{"a":64,"s":"w","x":2001,"v":1.025},{"a":64,"s":"w","x":2002,"v":0.95},{"a":64,"s":"w","x":2003,"v":0.97},{"a":64,"s":"w","x":2004,"v":0.89},{"a":64,"s":"w","x":2005,"v":0.94},{"a":64,"s":"w","x":2006,"v":0.87},{"a":64,"s":"w","x":2007,"v":0.84},{"a":64,"s":"w","x":2008,"v":0.845},{"a":64,"s":"w","x":2009,"v":0.795},{"a":64,"s":"w","x":2010,"v":0.775},{"a":64,"s":"w","x":2011,"v":0.76},{"a":64,"s":"w","x":2012,"v":0.72},{"a":64,"s":"w","x":2013,"v":0.765},
{"a":101,"s":"m","x":1999,"v":1},{"a":101,"s":"m","x":2000,"v":0.96},{"a":101,"s":"m","x":2001,"v":0.935},{"a":101,"s":"m","x":2002,"v":0.92},{"a":101,"s":"m","x":2003,"v":0.895},{"a":101,"s":"m","x":2004,"v":0.825},{"a":101,"s":"m","x":2005,"v":0.825},{"a":101,"s":"m","x":2006,"v":0.815},{"a":101,"s":"m","x":2007,"v":0.785},{"a":101,"s":"m","x":2008,"v":0.715},{"a":101,"s":"m","x":2009,"v":0.7},{"a":101,"s":"m","x":2010,"v":0.645},{"a":101,"s":"m","x":2011,"v":0.63},{"a":101,"s":"m","x":2012,"v":0.63},{"a":101,"s":"m","x":2013,"v":0.64},
{"a":101,"s":"w","x":1999,"v":1},{"a":101,"s":"w","x":2000,"v":0.965},{"a":101,"s":"w","x":2001,"v":0.98},{"a":101,"s":"w","x":2002,"v":0.96},{"a":101,"s":"w","x":2003,"v":0.94},{"a":101,"s":"w","x":2004,"v":0.89},{"a":101,"s":"w","x":2005,"v":0.87},{"a":101,"s":"w","x":2006,"v":0.85},{"a":101,"s":"w","x":2007,"v":0.795},{"a":101,"s":"w","x":2008,"v":0.765},{"a":101,"s":"w","x":2009,"v":0.73},{"a":101,"s":"w","x":2010,"v":0.7},{"a":101,"s":"w","x":2011,"v":0.7},{"a":101,"s":"w","x":2012,"v":0.68},{"a":101,"s":"w","x":2013,"v":0.655},
{"a":102,"s":"m","x":1999,"v":1},{"a":102,"s":"m","x":2000,"v":0.985},{"a":102,"s":"m","x":2001,"v":0.95},{"a":102,"s":"m","x":2002,"v":0.94},{"a":102,"s":"m","x":2003,"v":0.94},{"a":102,"s":"m","x":2004,"v":0.89},{"a":102,"s":"m","x":2005,"v":0.885},{"a":102,"s":"m","x":2006,"v":0.845},{"a":102,"s":"m","x":2007,"v":0.795},{"a":102,"s":"m","x":2008,"v":0.75},{"a":102,"s":"m","x":2009,"v":0.715},{"a":102,"s":"m","x":2010,"v":0.68},{"a":102,"s":"m","x":2011,"v":0.665},{"a":102,"s":"m","x":2012,"v":0.648},{"a":102,"s":"m","x":2013,"v":0.635},
{"a":102,"s":"w","x":1999,"v":1},{"a":102,"s":"w","x":2000,"v":1.02},{"a":102,"s":"w","x":2001,"v":1.0},{"a":102,"s":"w","x":2002,"v":1.0},{"a":102,"s":"w","x":2003,"v":1.0},{"a":102,"s":"w","x":2004,"v":0.96},{"a":102,"s":"w","x":2005,"v":0.965},{"a":102,"s":"w","x":2006,"v":0.925},{"a":102,"s":"w","x":2007,"v":0.9},{"a":102,"s":"w","x":2008,"v":0.875},{"a":102,"s":"w","x":2009,"v":0.85},{"a":102,"s":"w","x":2010,"v":0.815},{"a":102,"s":"w","x":2011,"v":0.79},{"a":102,"s":"w","x":2012,"v":0.78},{"a":102,"s":"w","x":2013,"v":0.76},
{"a":103,"s":"m","x":1999,"v":1},{"a":103,"s":"m","x":2000,"v":0.97},{"a":103,"s":"m","x":2001,"v":0.94},{"a":103,"s":"m","x":2002,"v":0.94},{"a":103,"s":"m","x":2003,"v":0.925},{"a":103,"s":"m","x":2004,"v":0.89},{"a":103,"s":"m","x":2005,"v":0.89},{"a":103,"s":"m","x":2006,"v":0.855},{"a":103,"s":"m","x":2007,"v":0.83},{"a":103,"s":"m","x":2008,"v":0.81},{"a":103,"s":"m","x":2009,"v":0.795},{"a":103,"s":"m","x":2010,"v":0.78},{"a":103,"s":"m","x":2011,"v":0.76},{"a":103,"s":"m","x":2012,"v":0.755},{"a":103,"s":"m","x":2013,"v":0.76},
{"a":103,"s":"w","x":1999,"v":1},{"a":103,"s":"w","x":2000,"v":0.965},{"a":103,"s":"w","x":2001,"v":0.96},{"a":103,"s":"w","x":2002,"v":0.935},{"a":103,"s":"w","x":2003,"v":0.93},{"a":103,"s":"w","x":2004,"v":0.89},{"a":103,"s":"w","x":2005,"v":0.87},{"a":103,"s":"w","x":2006,"v":0.845},{"a":103,"s":"w","x":2007,"v":0.82},{"a":103,"s":"w","x":2008,"v":0.8},{"a":103,"s":"w","x":2009,"v":0.785},{"a":103,"s":"w","x":2010,"v":0.77},{"a":103,"s":"w","x":2011,"v":0.75},{"a":103,"s":"w","x":2012,"v":0.75},{"a":103,"s":"w","x":2013,"v":0.76}
]},
"spacing":22,
"vconcat":[
{"transform":[{"filter":"datum.a >= 35 && datum.a <= 39"},{"calculate":"'Relative death rate'","as":"rl"}],
 "facet":{"row":{"field":"rl","type":"nominal","header":{"title":null,"labelAngle":-90,"labelFontSize":10.5,"labelColor":"black","labelPadding":12}},
          "column":{"field":"a","type":"ordinal","header":{"title":null,"labelExpr":"'age ' + datum.value","labelFontSize":13,"labelFontWeight":"bold","labelColor":"black","labelPadding":5}}},
 "spacing":{"row":0,"column":33.5},"bounds":"flush",
 "resolve":{"axis":{"y":"independent","x":"independent"}},
 "spec":{"width":116,"height":85,"layer":[
   {"transform":[{"filter":"datum.x == 1999 && datum.s == 'w'"}],"mark":{"type":"rule","color":"black","strokeDash":[4,4],"strokeWidth":1},"encoding":{"y":{"datum":1,"type":"quantitative","scale":{"domain":[0.645,1.245],"nice":false,"zero":false},"axis":{"title":null,"values":[0.7,0.8,0.9,1,1.1,1.2],"grid":true,"format":".1f","labelExpr":"(datum.value > 0.75 && datum.value < 0.85) || (datum.value > 0.95 && datum.value < 1.05) || datum.value > 1.15 ? datum.label : ''","tickSize":{"condition":{"test":"(datum.value > 0.75 && datum.value < 0.85) || (datum.value > 0.95 && datum.value < 1.05) || datum.value > 1.15","value":4},"value":0},"labelAngle":-90,"labelPadding":0,"labelOverlap":false,"labelFlush":false}}}},
   {"mark":{"type":"line","clip":true,"strokeWidth":1.2},"encoding":{
     "x":{"field":"x","type":"quantitative","scale":{"domain":[1999,2013],"nice":false,"zero":false},"axis":{"title":null,"values":[2000,2002,2004,2005,2006,2008,2010,2012],"grid":true,"gridOpacity":{"condition":{"test":"datum.value == 2005","value":0},"value":1},"tickSize":{"condition":{"test":"datum.value % 5 == 0","value":4},"value":0},"labelExpr":"datum.value % 5 == 0 ? datum.label : ''","format":"d","labelOverlap":false,"labelFlush":false,"labelPadding":1}},
     "y":{"field":"v","type":"quantitative","scale":{"domain":[0.645,1.245],"nice":false,"zero":false},"axis":{"title":null,"values":[0.7,0.8,0.9,1,1.1,1.2],"grid":true,"format":".1f","labelExpr":"(datum.value > 0.75 && datum.value < 0.85) || (datum.value > 0.95 && datum.value < 1.05) || datum.value > 1.15 ? datum.label : ''","tickSize":{"condition":{"test":"(datum.value > 0.75 && datum.value < 0.85) || (datum.value > 0.95 && datum.value < 1.05) || datum.value > 1.15","value":4},"value":0},"labelAngle":-90,"labelPadding":0,"labelOverlap":false,"labelFlush":false}},
     "color":{"field":"s","type":"nominal","scale":{"domain":["w","m"],"range":["#ff0000","#0000ff"]},"legend":null}}}
 ]}},
{"transform":[{"filter":"datum.a >= 40 && datum.a <= 44"},{"calculate":"'Relative death rate'","as":"rl"}],
 "facet":{"row":{"field":"rl","type":"nominal","header":{"title":null,"labelAngle":-90,"labelFontSize":10.5,"labelColor":"black","labelPadding":12}},
          "column":{"field":"a","type":"ordinal","header":{"title":null,"labelExpr":"'age ' + datum.value","labelFontSize":13,"labelFontWeight":"bold","labelColor":"black","labelPadding":5}}},
 "spacing":{"row":0,"column":33.5},"bounds":"flush",
 "resolve":{"axis":{"y":"independent","x":"independent"}},
 "spec":{"width":116,"height":85,"layer":[
   {"transform":[{"filter":"datum.x == 1999 && datum.s == 'w'"}],"mark":{"type":"rule","color":"black","strokeDash":[4,4],"strokeWidth":1},"encoding":{"y":{"datum":1,"type":"quantitative","scale":{"domain":[0.645,1.245],"nice":false,"zero":false},"axis":{"title":null,"values":[0.7,0.8,0.9,1,1.1,1.2],"grid":true,"format":".1f","labelExpr":"(datum.value > 0.75 && datum.value < 0.85) || (datum.value > 0.95 && datum.value < 1.05) || datum.value > 1.15 ? datum.label : ''","tickSize":{"condition":{"test":"(datum.value > 0.75 && datum.value < 0.85) || (datum.value > 0.95 && datum.value < 1.05) || datum.value > 1.15","value":4},"value":0},"labelAngle":-90,"labelPadding":0,"labelOverlap":false,"labelFlush":false}}}},
   {"mark":{"type":"line","clip":true,"strokeWidth":1.2},"encoding":{
     "x":{"field":"x","type":"quantitative","scale":{"domain":[1999,2013],"nice":false,"zero":false},"axis":{"title":null,"values":[2000,2002,2004,2005,2006,2008,2010,2012],"grid":true,"gridOpacity":{"condition":{"test":"datum.value == 2005","value":0},"value":1},"tickSize":{"condition":{"test":"datum.value % 5 == 0","value":4},"value":0},"labelExpr":"datum.value % 5 == 0 ? datum.label : ''","format":"d","labelOverlap":false,"labelFlush":false,"labelPadding":1}},
     "y":{"field":"v","type":"quantitative","scale":{"domain":[0.645,1.245],"nice":false,"zero":false},"axis":{"title":null,"values":[0.7,0.8,0.9,1,1.1,1.2],"grid":true,"format":".1f","labelExpr":"(datum.value > 0.75 && datum.value < 0.85) || (datum.value > 0.95 && datum.value < 1.05) || datum.value > 1.15 ? datum.label : ''","tickSize":{"condition":{"test":"(datum.value > 0.75 && datum.value < 0.85) || (datum.value > 0.95 && datum.value < 1.05) || datum.value > 1.15","value":4},"value":0},"labelAngle":-90,"labelPadding":0,"labelOverlap":false,"labelFlush":false}},
     "color":{"field":"s","type":"nominal","scale":{"domain":["w","m"],"range":["#ff0000","#0000ff"]},"legend":null}}}
 ]}},
{"transform":[{"filter":"datum.a >= 45 && datum.a <= 49"},{"calculate":"'Relative death rate'","as":"rl"}],
 "facet":{"row":{"field":"rl","type":"nominal","header":{"title":null,"labelAngle":-90,"labelFontSize":10.5,"labelColor":"black","labelPadding":12}},
          "column":{"field":"a","type":"ordinal","header":{"title":null,"labelExpr":"'age ' + datum.value","labelFontSize":13,"labelFontWeight":"bold","labelColor":"black","labelPadding":5}}},
 "spacing":{"row":0,"column":33.5},"bounds":"flush",
 "resolve":{"axis":{"y":"independent","x":"independent"}},
 "spec":{"width":116,"height":85,"layer":[
   {"transform":[{"filter":"datum.x == 1999 && datum.s == 'w'"}],"mark":{"type":"rule","color":"black","strokeDash":[4,4],"strokeWidth":1},"encoding":{"y":{"datum":1,"type":"quantitative","scale":{"domain":[0.645,1.245],"nice":false,"zero":false},"axis":{"title":null,"values":[0.7,0.8,0.9,1,1.1,1.2],"grid":true,"format":".1f","labelExpr":"(datum.value > 0.75 && datum.value < 0.85) || (datum.value > 0.95 && datum.value < 1.05) || datum.value > 1.15 ? datum.label : ''","tickSize":{"condition":{"test":"(datum.value > 0.75 && datum.value < 0.85) || (datum.value > 0.95 && datum.value < 1.05) || datum.value > 1.15","value":4},"value":0},"labelAngle":-90,"labelPadding":0,"labelOverlap":false,"labelFlush":false}}}},
   {"mark":{"type":"line","clip":true,"strokeWidth":1.2},"encoding":{
     "x":{"field":"x","type":"quantitative","scale":{"domain":[1999,2013],"nice":false,"zero":false},"axis":{"title":null,"values":[2000,2002,2004,2005,2006,2008,2010,2012],"grid":true,"gridOpacity":{"condition":{"test":"datum.value == 2005","value":0},"value":1},"tickSize":{"condition":{"test":"datum.value % 5 == 0","value":4},"value":0},"labelExpr":"datum.value % 5 == 0 ? datum.label : ''","format":"d","labelOverlap":false,"labelFlush":false,"labelPadding":1}},
     "y":{"field":"v","type":"quantitative","scale":{"domain":[0.645,1.245],"nice":false,"zero":false},"axis":{"title":null,"values":[0.7,0.8,0.9,1,1.1,1.2],"grid":true,"format":".1f","labelExpr":"(datum.value > 0.75 && datum.value < 0.85) || (datum.value > 0.95 && datum.value < 1.05) || datum.value > 1.15 ? datum.label : ''","tickSize":{"condition":{"test":"(datum.value > 0.75 && datum.value < 0.85) || (datum.value > 0.95 && datum.value < 1.05) || datum.value > 1.15","value":4},"value":0},"labelAngle":-90,"labelPadding":0,"labelOverlap":false,"labelFlush":false}},
     "color":{"field":"s","type":"nominal","scale":{"domain":["w","m"],"range":["#ff0000","#0000ff"]},"legend":null}}}
 ]}},
{"transform":[{"filter":"datum.a >= 50 && datum.a <= 54"},{"calculate":"'Relative death rate'","as":"rl"}],
 "facet":{"row":{"field":"rl","type":"nominal","header":{"title":null,"labelAngle":-90,"labelFontSize":10.5,"labelColor":"black","labelPadding":12}},
          "column":{"field":"a","type":"ordinal","header":{"title":null,"labelExpr":"'age ' + datum.value","labelFontSize":13,"labelFontWeight":"bold","labelColor":"black","labelPadding":5}}},
 "spacing":{"row":0,"column":33.5},"bounds":"flush",
 "resolve":{"axis":{"y":"independent","x":"independent"}},
 "spec":{"width":116,"height":85,"layer":[
   {"transform":[{"filter":"datum.x == 1999 && datum.s == 'w'"}],"mark":{"type":"rule","color":"black","strokeDash":[4,4],"strokeWidth":1},"encoding":{"y":{"datum":1,"type":"quantitative","scale":{"domain":[0.645,1.245],"nice":false,"zero":false},"axis":{"title":null,"values":[0.7,0.8,0.9,1,1.1,1.2],"grid":true,"format":".1f","labelExpr":"(datum.value > 0.75 && datum.value < 0.85) || (datum.value > 0.95 && datum.value < 1.05) || datum.value > 1.15 ? datum.label : ''","tickSize":{"condition":{"test":"(datum.value > 0.75 && datum.value < 0.85) || (datum.value > 0.95 && datum.value < 1.05) || datum.value > 1.15","value":4},"value":0},"labelAngle":-90,"labelPadding":0,"labelOverlap":false,"labelFlush":false}}}},
   {"mark":{"type":"line","clip":true,"strokeWidth":1.2},"encoding":{
     "x":{"field":"x","type":"quantitative","scale":{"domain":[1999,2013],"nice":false,"zero":false},"axis":{"title":null,"values":[2000,2002,2004,2005,2006,2008,2010,2012],"grid":true,"gridOpacity":{"condition":{"test":"datum.value == 2005","value":0},"value":1},"tickSize":{"condition":{"test":"datum.value % 5 == 0","value":4},"value":0},"labelExpr":"datum.value % 5 == 0 ? datum.label : ''","format":"d","labelOverlap":false,"labelFlush":false,"labelPadding":1}},
     "y":{"field":"v","type":"quantitative","scale":{"domain":[0.645,1.245],"nice":false,"zero":false},"axis":{"title":null,"values":[0.7,0.8,0.9,1,1.1,1.2],"grid":true,"format":".1f","labelExpr":"(datum.value > 0.75 && datum.value < 0.85) || (datum.value > 0.95 && datum.value < 1.05) || datum.value > 1.15 ? datum.label : ''","tickSize":{"condition":{"test":"(datum.value > 0.75 && datum.value < 0.85) || (datum.value > 0.95 && datum.value < 1.05) || datum.value > 1.15","value":4},"value":0},"labelAngle":-90,"labelPadding":0,"labelOverlap":false,"labelFlush":false}},
     "color":{"field":"s","type":"nominal","scale":{"domain":["w","m"],"range":["#ff0000","#0000ff"]},"legend":null}}}
 ]}},
{"transform":[{"filter":"datum.a >= 55 && datum.a <= 59"},{"calculate":"'Relative death rate'","as":"rl"}],
 "facet":{"row":{"field":"rl","type":"nominal","header":{"title":null,"labelAngle":-90,"labelFontSize":10.5,"labelColor":"black","labelPadding":12}},
          "column":{"field":"a","type":"ordinal","header":{"title":null,"labelExpr":"'age ' + datum.value","labelFontSize":13,"labelFontWeight":"bold","labelColor":"black","labelPadding":5}}},
 "spacing":{"row":0,"column":33.5},"bounds":"flush",
 "resolve":{"axis":{"y":"independent","x":"independent"}},
 "spec":{"width":116,"height":85,"layer":[
   {"transform":[{"filter":"datum.x == 1999 && datum.s == 'w'"}],"mark":{"type":"rule","color":"black","strokeDash":[4,4],"strokeWidth":1},"encoding":{"y":{"datum":1,"type":"quantitative","scale":{"domain":[0.645,1.245],"nice":false,"zero":false},"axis":{"title":null,"values":[0.7,0.8,0.9,1,1.1,1.2],"grid":true,"format":".1f","labelExpr":"(datum.value > 0.75 && datum.value < 0.85) || (datum.value > 0.95 && datum.value < 1.05) || datum.value > 1.15 ? datum.label : ''","tickSize":{"condition":{"test":"(datum.value > 0.75 && datum.value < 0.85) || (datum.value > 0.95 && datum.value < 1.05) || datum.value > 1.15","value":4},"value":0},"labelAngle":-90,"labelPadding":0,"labelOverlap":false,"labelFlush":false}}}},
   {"mark":{"type":"line","clip":true,"strokeWidth":1.2},"encoding":{
     "x":{"field":"x","type":"quantitative","scale":{"domain":[1999,2013],"nice":false,"zero":false},"axis":{"title":null,"values":[2000,2002,2004,2005,2006,2008,2010,2012],"grid":true,"gridOpacity":{"condition":{"test":"datum.value == 2005","value":0},"value":1},"tickSize":{"condition":{"test":"datum.value % 5 == 0","value":4},"value":0},"labelExpr":"datum.value % 5 == 0 ? datum.label : ''","format":"d","labelOverlap":false,"labelFlush":false,"labelPadding":1}},
     "y":{"field":"v","type":"quantitative","scale":{"domain":[0.645,1.245],"nice":false,"zero":false},"axis":{"title":null,"values":[0.7,0.8,0.9,1,1.1,1.2],"grid":true,"format":".1f","labelExpr":"(datum.value > 0.75 && datum.value < 0.85) || (datum.value > 0.95 && datum.value < 1.05) || datum.value > 1.15 ? datum.label : ''","tickSize":{"condition":{"test":"(datum.value > 0.75 && datum.value < 0.85) || (datum.value > 0.95 && datum.value < 1.05) || datum.value > 1.15","value":4},"value":0},"labelAngle":-90,"labelPadding":0,"labelOverlap":false,"labelFlush":false}},
     "color":{"field":"s","type":"nominal","scale":{"domain":["w","m"],"range":["#ff0000","#0000ff"]},"legend":null}}}
 ]}},
{"transform":[{"filter":"datum.a >= 60 && datum.a <= 64"},{"calculate":"'Relative death rate'","as":"rl"}],
 "facet":{"row":{"field":"rl","type":"nominal","header":{"title":null,"labelAngle":-90,"labelFontSize":10.5,"labelColor":"black","labelPadding":12}},
          "column":{"field":"a","type":"ordinal","header":{"title":null,"labelExpr":"'age ' + datum.value","labelFontSize":13,"labelFontWeight":"bold","labelColor":"black","labelPadding":5}}},
 "spacing":{"row":0,"column":33.5},"bounds":"flush",
 "resolve":{"axis":{"y":"independent","x":"independent"}},
 "spec":{"width":116,"height":85,"layer":[
   {"transform":[{"filter":"datum.x == 1999 && datum.s == 'w'"}],"mark":{"type":"rule","color":"black","strokeDash":[4,4],"strokeWidth":1},"encoding":{"y":{"datum":1,"type":"quantitative","scale":{"domain":[0.645,1.245],"nice":false,"zero":false},"axis":{"title":null,"values":[0.7,0.8,0.9,1,1.1,1.2],"grid":true,"format":".1f","labelExpr":"(datum.value > 0.75 && datum.value < 0.85) || (datum.value > 0.95 && datum.value < 1.05) || datum.value > 1.15 ? datum.label : ''","tickSize":{"condition":{"test":"(datum.value > 0.75 && datum.value < 0.85) || (datum.value > 0.95 && datum.value < 1.05) || datum.value > 1.15","value":4},"value":0},"labelAngle":-90,"labelPadding":0,"labelOverlap":false,"labelFlush":false}}}},
   {"mark":{"type":"line","clip":true,"strokeWidth":1.2},"encoding":{
     "x":{"field":"x","type":"quantitative","scale":{"domain":[1999,2013],"nice":false,"zero":false},"axis":{"title":null,"values":[2000,2002,2004,2005,2006,2008,2010,2012],"grid":true,"gridOpacity":{"condition":{"test":"datum.value == 2005","value":0},"value":1},"tickSize":{"condition":{"test":"datum.value % 5 == 0","value":4},"value":0},"labelExpr":"datum.value % 5 == 0 ? datum.label : ''","format":"d","labelOverlap":false,"labelFlush":false,"labelPadding":1}},
     "y":{"field":"v","type":"quantitative","scale":{"domain":[0.645,1.245],"nice":false,"zero":false},"axis":{"title":null,"values":[0.7,0.8,0.9,1,1.1,1.2],"grid":true,"format":".1f","labelExpr":"(datum.value > 0.75 && datum.value < 0.85) || (datum.value > 0.95 && datum.value < 1.05) || datum.value > 1.15 ? datum.label : ''","tickSize":{"condition":{"test":"(datum.value > 0.75 && datum.value < 0.85) || (datum.value > 0.95 && datum.value < 1.05) || datum.value > 1.15","value":4},"value":0},"labelAngle":-90,"labelPadding":0,"labelOverlap":false,"labelFlush":false}},
     "color":{"field":"s","type":"nominal","scale":{"domain":["w","m"],"range":["#ff0000","#0000ff"]},"legend":null}}}
 ]}},
{"spacing":182,"hconcat":[
{"transform":[{"filter":"datum.a > 100"},{"calculate":"'Relative death rate'","as":"rl"}],
 "facet":{"row":{"field":"rl","type":"nominal","header":{"title":null,"labelAngle":-90,"labelFontSize":10.5,"labelColor":"black","labelPadding":12}},
          "column":{"field":"a","type":"ordinal","header":{"title":null,"labelExpr":"datum.value == 101 ? 'Age–adj, 35–44' : datum.value == 102 ? 'Age–adj, 45–54' : 'Age–adj, 55–64'","labelFontSize":13,"labelFontWeight":"bold","labelColor":"black","labelPadding":5}}},
 "spacing":{"row":0,"column":33.5},"bounds":"flush",
 "resolve":{"axis":{"y":"independent","x":"independent"}},
 "spec":{"width":116,"height":85,"layer":[
   {"transform":[{"filter":"datum.x == 1999 && datum.s == 'w'"}],"mark":{"type":"rule","color":"#bebebe","strokeWidth":1},"encoding":{"y":{"datum":1,"type":"quantitative","scale":{"domain":[0.645,1.245],"nice":false,"zero":false},"axis":{"title":null,"values":[0.7,0.8,0.9,1,1.1,1.2],"grid":true,"format":".1f","labelExpr":"(datum.value > 0.75 && datum.value < 0.85) || (datum.value > 0.95 && datum.value < 1.05) || datum.value > 1.15 ? datum.label : ''","tickSize":{"condition":{"test":"(datum.value > 0.75 && datum.value < 0.85) || (datum.value > 0.95 && datum.value < 1.05) || datum.value > 1.15","value":4},"value":0},"labelAngle":-90,"labelPadding":0,"labelOverlap":false,"labelFlush":false}}}},
   {"mark":{"type":"line","clip":true,"strokeWidth":1.2},"encoding":{
     "x":{"field":"x","type":"quantitative","scale":{"domain":[1999,2013],"nice":false,"zero":false},"axis":{"title":null,"values":[2000,2002,2004,2005,2006,2008,2010,2012],"grid":true,"gridOpacity":{"condition":{"test":"datum.value == 2005","value":0},"value":1},"tickSize":{"condition":{"test":"datum.value % 5 == 0","value":4},"value":0},"labelExpr":"datum.value % 5 == 0 ? datum.label : ''","format":"d","labelOverlap":false,"labelFlush":false,"labelPadding":1}},
     "y":{"field":"v","type":"quantitative","scale":{"domain":[0.645,1.245],"nice":false,"zero":false},"axis":{"title":null,"values":[0.7,0.8,0.9,1,1.1,1.2],"grid":true,"format":".1f","labelExpr":"(datum.value > 0.75 && datum.value < 0.85) || (datum.value > 0.95 && datum.value < 1.05) || datum.value > 1.15 ? datum.label : ''","tickSize":{"condition":{"test":"(datum.value > 0.75 && datum.value < 0.85) || (datum.value > 0.95 && datum.value < 1.05) || datum.value > 1.15","value":4},"value":0},"labelAngle":-90,"labelPadding":0,"labelOverlap":false,"labelFlush":false}},
     "color":{"field":"s","type":"nominal","scale":{"domain":["w","m"],"range":["#ff0000","#0000ff"]},"legend":null}}}
 ]}},
{"width":116,"height":110,
 "data":{"values":[{"t":"Red lines show\ntrends for women.","s":"w"},{"t":"Blue lines show\ntrends for men.","s":"m"}]},
 "mark":{"type":"text","lineBreak":"\n","fontSize":11,"lineHeight":12.5,"font":"Liberation Sans"},
 "encoding":{"text":{"field":"t","type":"nominal"},
   "y":{"field":"s","type":"nominal","sort":["w","m"],"scale":{"padding":0.696,"align":0.11},"axis":null},
   "color":{"field":"s","type":"nominal","scale":{"domain":["w","m"],"range":["#ff0000","#0000ff"]},"legend":null}}}
]}
]
}
